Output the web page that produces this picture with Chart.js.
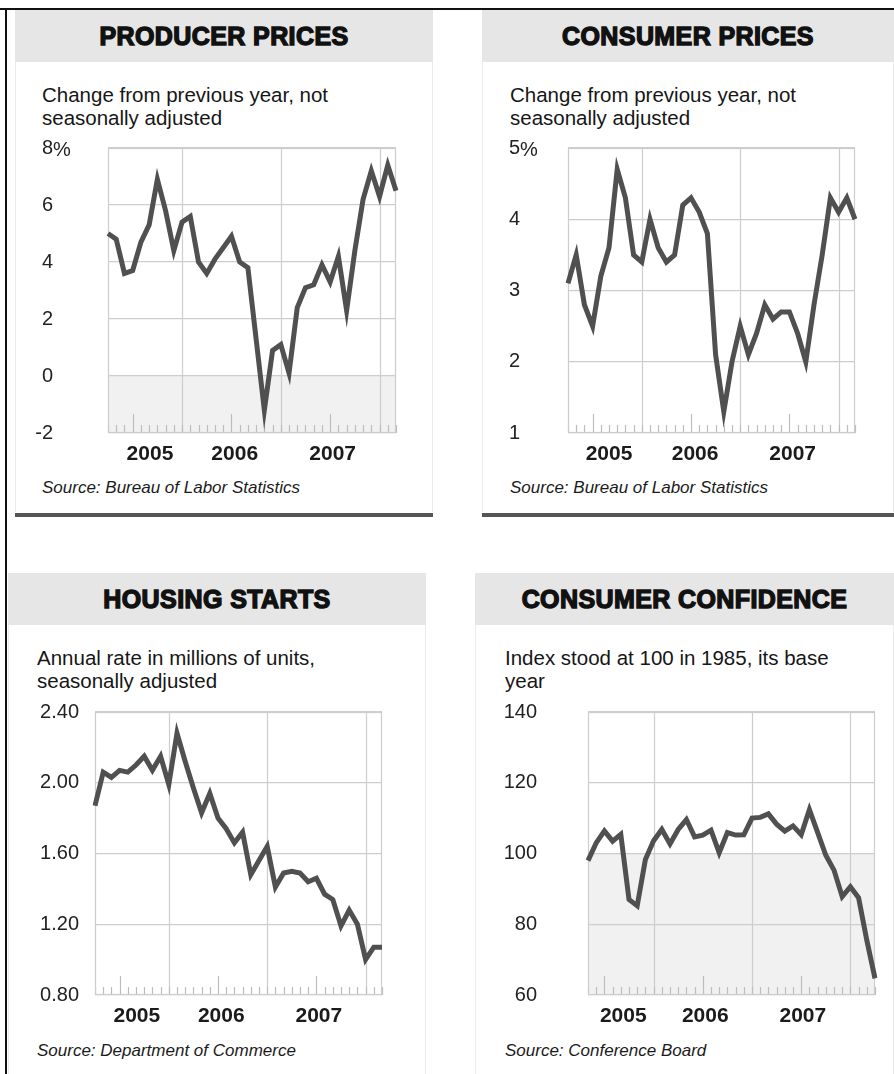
<!DOCTYPE html>
<html><head><meta charset="utf-8">
<script src="https://cdn.jsdelivr.net/npm/chart.js@4.4.1/dist/chart.umd.min.js"></script>
<style>
html,body{margin:0;padding:0;background:#fff;}
body{width:894px;height:1074px;position:relative;overflow:hidden;font-family:"Liberation Sans",Arial,Helvetica,sans-serif;color:#1b1b1b;}
.a{position:absolute;}
.frameTop{left:0;top:8px;width:894px;height:2px;background:#111;}
.frameLeft{left:5px;top:8px;width:2px;height:1066px;background:#111;}
.pbody{border-left:1px solid #ececec;border-right:1px solid #ececec;background:#fff;box-sizing:border-box;}
.head{background:#e6e6e6;text-align:center;font-weight:bold;font-size:25px;line-height:54px;-webkit-text-stroke:1.4px #111;color:#111;letter-spacing:0.4px;}
.sub{font-size:20.5px;line-height:23px;white-space:nowrap;color:#161616;}
.src{font-size:17px;font-style:italic;line-height:20px;white-space:nowrap;}
.bar{height:4px;background:#555;}
canvas{position:absolute;}
</style></head>
<body>
<div class="a frameTop"></div>
<div class="a frameLeft"></div>

<!-- top-left -->
<div class="a pbody" style="left:15px;top:62px;width:418px;height:450px;"></div>
<div class="a head" style="left:15px;top:10px;width:418px;height:52px;line-height:52px;">PRODUCER PRICES</div>
<div class="a sub" style="left:42px;top:83px;">Change from previous year, not<br>seasonally adjusted</div>
<div class="a src" style="left:42px;top:478px;">Source: Bureau of Labor Statistics</div>
<div class="a bar" style="left:15px;top:513px;width:418px;"></div>

<!-- top-right -->
<div class="a pbody" style="left:482px;top:62px;width:412px;height:450px;"></div>
<div class="a head" style="left:482px;top:10px;width:412px;height:52px;line-height:52px;">CONSUMER PRICES</div>
<div class="a sub" style="left:510px;top:83px;">Change from previous year, not<br>seasonally adjusted</div>
<div class="a src" style="left:510px;top:478px;">Source: Bureau of Labor Statistics</div>
<div class="a bar" style="left:482px;top:513px;width:412px;"></div>

<!-- bottom-left -->
<div class="a pbody" style="left:8px;top:625px;width:418px;height:449px;"></div>
<div class="a head" style="left:8px;top:573px;width:418px;height:52px;line-height:52px;">HOUSING STARTS</div>
<div class="a sub" style="left:37px;top:646px;">Annual rate in millions of units,<br>seasonally adjusted</div>
<div class="a src" style="left:37px;top:1041px;">Source: Department of Commerce</div>

<!-- bottom-right -->
<div class="a pbody" style="left:475px;top:625px;width:419px;height:449px;"></div>
<div class="a head" style="left:475px;top:573px;width:419px;height:52px;line-height:52px;">CONSUMER CONFIDENCE</div>
<div class="a sub" style="left:505px;top:646px;">Index stood at 100 in 1985, its base<br>year</div>
<div class="a src" style="left:505px;top:1041px;">Source: Conference Board</div>

<canvas id="ppi" width="386" height="339" style="left:18px;top:134px;width:386px;height:339px;"></canvas>
<canvas id="cpi" width="385" height="339" style="left:478px;top:134px;width:385px;height:339px;"></canvas>
<canvas id="housing" width="385" height="337" style="left:5px;top:698px;width:385px;height:337px;"></canvas>
<canvas id="conf" width="385" height="337" style="left:498px;top:698px;width:385px;height:337px;"></canvas>

<script>
// ---- data ----
const monthsMar05 = ['2005-03','2005-04','2005-05','2005-06','2005-07','2005-08','2005-09','2005-10','2005-11','2005-12',
  '2006-01','2006-02','2006-03','2006-04','2006-05','2006-06','2006-07','2006-08','2006-09','2006-10','2006-11','2006-12',
  '2007-01','2007-02','2007-03','2007-04','2007-05','2007-06','2007-07','2007-08','2007-09','2007-10','2007-11','2007-12',
  '2008-01','2008-02'];
const monthsApr05 = ['2005-04','2005-05','2005-06','2005-07','2005-08','2005-09','2005-10','2005-11','2005-12',
  '2006-01','2006-02','2006-03','2006-04','2006-05','2006-06','2006-07','2006-08','2006-09','2006-10','2006-11','2006-12',
  '2007-01','2007-02','2007-03','2007-04','2007-05','2007-06','2007-07','2007-08','2007-09','2007-10','2007-11','2007-12',
  '2008-01','2008-02','2008-03'];
const yearLabels = ['2005','2006','2007'];

const ppiValues = [5.0, 4.8, 3.6, 3.7, 4.7, 5.3, 6.9, 5.8, 4.4, 5.4, 5.6, 4.0, 3.6, 4.1, 4.5, 4.9, 4.0, 3.8,
  1.3, -1.2, 0.9, 1.1, 0.1, 2.4, 3.1, 3.2, 3.9, 3.3, 4.2, 2.3, 4.4, 6.2, 7.2, 6.3, 7.4, 6.5];
const cpiValues = [3.1, 3.5, 2.8, 2.5, 3.2, 3.6, 4.7, 4.3, 3.5, 3.4, 4.0, 3.6, 3.4, 3.5, 4.2, 4.3, 4.1, 3.8,
  2.1, 1.3, 2.0, 2.5, 2.1, 2.4, 2.8, 2.6, 2.7, 2.7, 2.4, 2.0, 2.8, 3.5, 4.3, 4.1, 4.3, 4.0];
const housingValues = [1.87, 2.06, 2.03, 2.07, 2.06, 2.10, 2.15, 2.07, 2.15, 1.99, 2.28, 2.12, 1.97, 1.83, 1.94, 1.80,
  1.74, 1.66, 1.72, 1.48, 1.56, 1.64, 1.41, 1.49, 1.50, 1.49, 1.44, 1.46, 1.37, 1.34, 1.19, 1.28, 1.20, 1.00, 1.07, 1.07];
const confidenceValues = [98, 103, 106.4, 103.5, 105.4, 87, 85.2, 98.3, 103.6, 106.8, 102.7, 106.8, 109.6, 104.7, 105.2,
  106.6, 100.2, 105.9, 105.2, 105.3, 110, 110.2, 111.2, 108.3, 106.3, 107.8, 105.3, 112.4, 106, 99.5, 95.3, 87.8, 90.6,
  87.5, 75.5, 64.7];

const ppiYTicks = [-2, 0, 2, 4, 6, 8];
const cpiYTicks = [1, 2, 3, 4, 5];
const housingYTicks = [0.8, 1.2, 1.6, 2.0, 2.4];
const confidenceYTicks = [60, 80, 100, 120, 140];

// ---- drawing ----
const FONT = '"Liberation Sans", Arial, Helvetica, sans-serif';
const GRID = '#cdcdcd';

function decorPlugin(cfg) {
  return {
    id: 'decor',
    beforeDraw(chart) {
      if (cfg.shadeBelow === undefined) return;
      const {ctx, chartArea: a, scales: {y}} = chart;
      const ys = y.getPixelForValue(cfg.shadeBelow);
      ctx.save();
      ctx.fillStyle = '#f1f1f1';
      ctx.fillRect(a.left, ys, a.right - a.left, a.bottom - ys);
      ctx.restore();
    },
    beforeDatasetsDraw(chart) {
      const {ctx, chartArea: a, scales: {x}} = chart;
      const labels = chart.data.labels;
      ctx.save();
      ctx.lineWidth = 1.2;
      labels.forEach((m, i) => {
        const px = Math.round(x.getPixelForValue(i)) + 0.5;
        const mo = m.slice(5);
        if (mo === '12') {
          ctx.strokeStyle = GRID;
          ctx.beginPath(); ctx.moveTo(px, a.top); ctx.lineTo(px, a.bottom); ctx.stroke();
        }
        const h = mo === '06' ? 19 : 8;
        ctx.strokeStyle = '#bdbdbd';
        ctx.beginPath(); ctx.moveTo(px, a.bottom); ctx.lineTo(px, a.bottom - h); ctx.stroke();
      });
      ctx.strokeStyle = GRID;
      ctx.strokeRect(a.left + 0.5, a.top + 0.5, a.right - a.left - 1, a.bottom - a.top - 1);
      ctx.fillStyle = '#1b1b1b';
      ctx.font = 'bold 21px ' + FONT;
      ctx.textAlign = 'center';
      ctx.textBaseline = 'middle';
      yearLabels.forEach((yr, k) => {
        const i = labels.indexOf(yr + '-06');
        const px = x.getPixelForValue(i + cfg.yearShift[k]);
        ctx.fillText(yr, px, a.bottom + 21);
      });
      ctx.restore();
    },
    afterDraw(chart) {
      if (!cfg.percent) return;
      const {ctx, chartArea: a, scales: {y}} = chart;
      ctx.save();
      ctx.fillStyle = '#222';
      ctx.font = '20px ' + FONT;
      ctx.textAlign = 'left';
      ctx.textBaseline = 'middle';
      ctx.fillText('%', a.left - cfg.labelPad, y.getPixelForValue(y.max) + 2);
      ctx.restore();
    }
  };
}

function makeChart(id, labels, values, yTicks, cfg) {
  return new Chart(document.getElementById(id), {
    type: 'line',
    data: {
      labels: labels,
      datasets: [{
        data: values, borderColor: '#505050', borderWidth: 5, pointRadius: 0,
        tension: 0, fill: false, borderJoinStyle: 'miter', borderCapStyle: 'butt'
      }]
    },
    options: {
      responsive: false, maintainAspectRatio: false, animation: false, devicePixelRatio: 1,
      layout: {padding: {top: 14, right: 8, bottom: 40, left: 0}},
      plugins: {legend: {display: false}, tooltip: {enabled: false}},
      scales: {
        x: {type: 'category', display: false, offset: false},
        y: {
          min: yTicks[0], max: yTicks[yTicks.length - 1],
          afterBuildTicks: s => { s.ticks = yTicks.map(v => ({value: v})); },
          afterFit: s => { s.width = 90; s.paddingTop = 0; s.paddingBottom = 0; },
          grid: {color: GRID, lineWidth: 1.2, drawTicks: false},
          border: {display: false},
          ticks: {
            padding: cfg.labelPad, color: '#222', font: {family: FONT, size: 20},
            callback: v => cfg.fmt(v)
          }
        }
      }
    },
    plugins: [decorPlugin(cfg)]
  });
}

makeChart('ppi', monthsMar05, ppiValues, ppiYTicks,
  {labelPad: 55, fmt: v => String(v), percent: true, shadeBelow: 0, yearShift: [2.1, 0.4, 0.3]});
makeChart('cpi', monthsMar05, cpiValues, cpiYTicks,
  {labelPad: 48, fmt: v => String(v), percent: true, yearShift: [2.0, 0.5, 0.4]});
makeChart('housing', monthsMar05, housingValues, housingYTicks,
  {labelPad: 16, fmt: v => Number(v).toFixed(2), percent: false, yearShift: [2.1, 0.4, 0.3]});
makeChart('conf', monthsApr05, confidenceValues, confidenceYTicks,
  {labelPad: 51, fmt: v => String(v), percent: false, shadeBelow: 100, yearShift: [2.3, 0.3, 0.2]});
</script>
</body></html>
